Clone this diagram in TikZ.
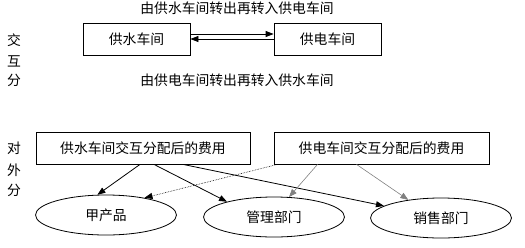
\documentclass[tikz,border=0pt]{standalone}
\usepackage{fontspec}
\newfontfamily\cjk{Noto Sans CJK SC}
\usepackage{tikz}
\usetikzlibrary{arrows.meta,shapes.geometric}

\begin{document}
\begin{tikzpicture}[x=1pt,y=-1pt,>={Triangle[length=8pt,width=6pt]},
  font=\cjk\fontsize{13.8}{15}\selectfont,line width=0.8pt,
  box/.style={draw,minimum height=32pt,inner sep=0pt},
  oval/.style={draw,ellipse,minimum width=141pt,minimum height=40pt,inner sep=0pt},
  grayarr/.style={->,gray,line width=0.6pt}]
\useasboundingbox (0,0) rectangle (525,247);
% mutual allocation
\node (lblA) at (237,8) {由供水车间转出再转入供电车间};
\node (lblB) at (237,80) {由供电车间转出再转入供水车间};
\node[box,minimum width=107pt] (water) at (136.5,39) {供水车间};
\node[box,minimum width=107pt] (power) at (327.5,39) {供电车间};
\draw[->] ([yshift=5pt]water.east) -- ([yshift=5pt]power.west);
\draw[->] (power.west) -- (water.east);
\node (jiao) at (14,40) {交};
\node (hu) at (14,61) {互};
\node (fenA) at (14,80) {分};
% external allocation
\node (dui) at (14,148) {对};
\node (wai) at (14,170) {外};
\node (fenB) at (14,190) {分};
\node[box,minimum width=214pt] (waterCost) at (143,148) {供水车间交互分配后的费用};
\node[box,minimum width=215pt] (powerCost) at (381.5,148) {供电车间交互分配后的费用};
\node[oval] (prod) at (106,215) {甲产品};
\node[oval] (mgmt) at (274,217) {管理部门};
\node[oval] (sales) at (441,218) {销售部门};
\draw[->] ([xshift=-3pt]waterCost.south) -- (prod.113);
\draw[->] ([xshift=11pt]waterCost.south) -- (mgmt.162);
\draw[->] ([xshift=40pt]waterCost.south) -- (sales.168);
\draw[grayarr,densely dotted,black] ([xshift=-104pt]powerCost.south) -- (prod.24);
\draw[grayarr] ([xshift=-64pt]powerCost.south) -- (mgmt.53);
\draw[grayarr] ([xshift=-25pt]powerCost.south) -- (sales.151);
\end{tikzpicture}
\end{document}
